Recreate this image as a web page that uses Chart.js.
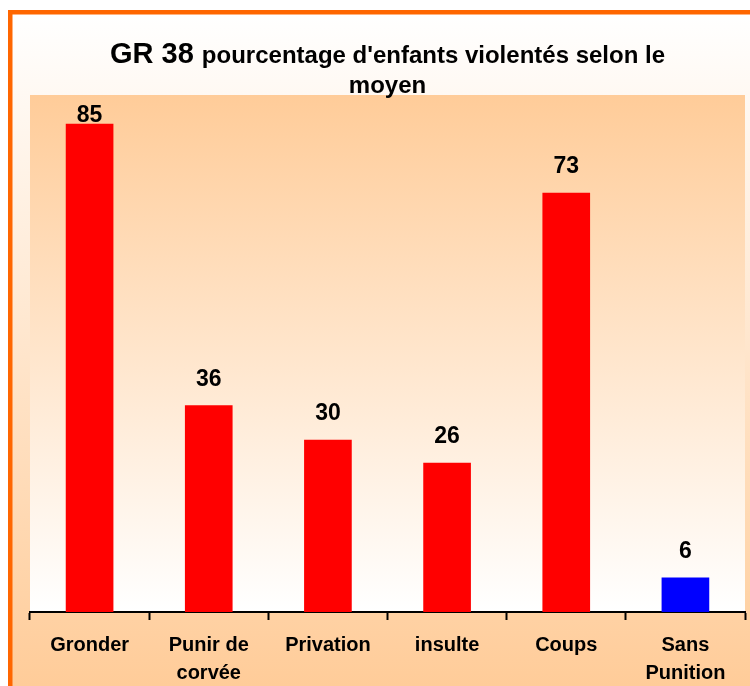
<!DOCTYPE html>
<html>
<head>
<meta charset="utf-8">
<script src="https://cdn.jsdelivr.net/npm/chart.js@4/dist/chart.umd.min.js"></script>
<style>
  html, body { margin: 0; padding: 0; background: #ffffff; }
  canvas { display: block; }
</style>
</head>
<body>
<canvas id="chart" width="750" height="686"></canvas>
<script>
// Values: share of children (%) by type of punishment
const categories = ["Gronder", "Punir de corvée", "Privation", "insulte", "Coups", "Sans Punition"];
const tickLabels = [["Gronder"], ["Punir de", "corvée"], ["Privation"], ["insulte"], ["Coups"], ["Sans", "Punition"]];
const percentages = [85, 36, 30, 26, 73, 6];
const yMax = 90;

const titleLead = "GR 38";
const titleRest = "pourcentage d'enfants violentés selon le";
const titleLine2 = "moyen";

const FONT = "'Liberation Sans', Arial, sans-serif";
const PEACH = "#FFCC99";
const ORANGE = "#FF6600";

// Red bars, last one (no punishment) in blue
const barColors = categories.map((c, i) => i === categories.length - 1 ? "#0000FF" : "#FF0000");

// Frame, outer gradient and plot-area gradient
const backdrop = {
  id: "backdrop",
  beforeDraw(chart) {
    const { ctx, width, height, chartArea: a } = chart;
    ctx.save();
    ctx.fillStyle = "#ffffff";
    ctx.fillRect(0, 0, width, height);

    const outer = ctx.createLinearGradient(0, 14, 0, height);
    outer.addColorStop(0, "#FFFFFF");
    outer.addColorStop(1, PEACH);
    ctx.fillStyle = outer;
    ctx.fillRect(12, 14, width - 12, height - 14);

    ctx.fillStyle = ORANGE;
    ctx.fillRect(8, 10, width - 8, 4.5);
    ctx.fillRect(8, 10, 4.5, height - 10);

    const inner = ctx.createLinearGradient(0, a.top, 0, a.bottom);
    inner.addColorStop(0, PEACH);
    inner.addColorStop(1, "#FFFFFF");
    ctx.fillStyle = inner;
    ctx.fillRect(a.left, a.top, a.right - a.left, a.bottom - a.top);
    ctx.restore();
  },
  afterDraw(chart) {
    const { ctx, chartArea: a } = chart;
    const cx = (a.left + a.right) / 2;
    ctx.save();
    ctx.fillStyle = "#000000";
    ctx.textBaseline = "alphabetic";
    const bigFont = "bold 29px " + FONT;
    const smallFont = "bold 24px " + FONT;
    ctx.font = bigFont;
    const w1 = ctx.measureText(titleLead + " ").width;
    ctx.font = smallFont;
    const w2 = ctx.measureText(titleRest).width;
    let x = cx - (w1 + w2) / 2;
    ctx.textAlign = "left";
    ctx.font = bigFont;
    ctx.fillText(titleLead + " ", x, 63);
    ctx.font = smallFont;
    ctx.fillText(titleRest, x + w1, 63);
    ctx.textAlign = "center";
    ctx.fillText(titleLine2, cx, 93);
    ctx.restore();
  }
};

// Value labels above each bar
const valueLabels = {
  id: "valueLabels",
  afterDatasetsDraw(chart) {
    const { ctx, chartArea: a } = chart;
    const meta = chart.getDatasetMeta(0);
    ctx.save();
    ctx.font = "bold 23px " + FONT;
    ctx.fillStyle = "#000000";
    ctx.textAlign = "center";
    ctx.textBaseline = "alphabetic";
    meta.data.forEach((bar, i) => {
      const y = Math.max(bar.y - 19.5, a.top + 27);
      ctx.fillText(String(chart.data.datasets[0].data[i]), bar.x, y);
    });
    ctx.restore();
  }
};

new Chart(document.getElementById("chart"), {
  type: "bar",
  data: {
    labels: tickLabels,
    datasets: [{
      data: percentages,
      backgroundColor: barColors,
      borderWidth: 0,
      categoryPercentage: 1,
      barPercentage: 0.4
    }]
  },
  options: {
    responsive: false,
    devicePixelRatio: 1,
    animation: false,
    layout: { padding: { top: 95, left: 30, right: 5, bottom: 0 } },
    plugins: {
      legend: { display: false },
      tooltip: { enabled: false },
      title: { display: false }
    },
    scales: {
      x: {
        afterFit(scale) { scale.height = 74; },
        grid: {
          offset: true,
          drawOnChartArea: false,
          drawTicks: true,
          tickLength: 8,
          tickWidth: 2,
          tickColor: "#000000"
        },
        border: { display: true, color: "#000000", width: 2 },
        ticks: {
          color: "#000000",
          padding: 11,
          maxRotation: 0,
          autoSkip: false,
          font: { family: FONT, size: 20, weight: "bold", lineHeight: 1.4 }
        }
      },
      y: {
        display: false,
        min: 0,
        max: yMax
      }
    }
  },
  plugins: [backdrop, valueLabels]
});
</script>
</body>
</html>
